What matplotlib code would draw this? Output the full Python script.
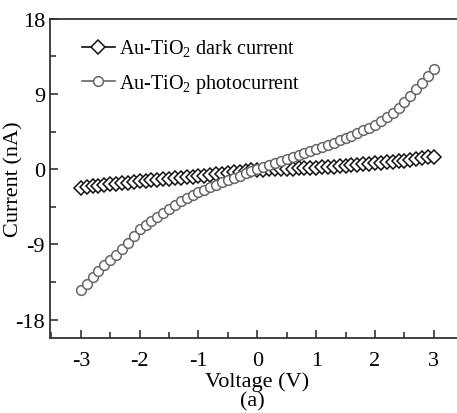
import numpy as np
import matplotlib.pyplot as plt
from matplotlib.ticker import MultipleLocator

plt.rcParams['font.family'] = ['Liberation Serif', 'DejaVu Serif']
plt.rcParams['mathtext.fontset'] = 'custom'
plt.rcParams['mathtext.rm'] = 'Liberation Serif'
plt.rcParams['axes.unicode_minus'] = False

# voltage sweep, 0.1 V steps
voltage = np.round(np.arange(-3.0, 3.01, 0.1), 2)

dark_current = [-2.2, -2.12, -2.04, -1.96, -1.88, -1.8, -1.73, -1.66, -1.59, -1.52,
                -1.45, -1.39, -1.33, -1.27, -1.21, -1.15, -1.09, -1.03, -0.97, -0.91,
                -0.85, -0.77, -0.69, -0.61, -0.53, -0.45, -0.37, -0.29, -0.21, -0.13,
                -0.05, -0.03, -0.01, 0.01, 0.03, 0.05, 0.08, 0.11, 0.14, 0.17,
                0.2, 0.24, 0.28, 0.32, 0.36, 0.4, 0.46, 0.52, 0.58, 0.64,
                0.7, 0.77, 0.84, 0.91, 0.98, 1.05, 1.14, 1.23, 1.32, 1.41, 1.5]

photocurrent = [-14.5, -13.7, -12.9, -12.2, -11.5, -10.9, -10.2, -9.5, -8.8, -8.0,
                -7.2, -6.7, -6.2, -5.7, -5.2, -4.75, -4.3, -3.85, -3.45, -3.1,
                -2.75, -2.45, -2.15, -1.85, -1.55, -1.3, -1.05, -0.8, -0.5, -0.25,
                0.0, 0.3, 0.55, 0.8, 1.0, 1.25, 1.45, 1.7, 1.95, 2.15,
                2.4, 2.65, 2.9, 3.15, 3.45, 3.75, 4.03, 4.33, 4.65, 4.99,
                5.35, 5.75, 6.22, 6.77, 7.39, 8.1, 8.82, 9.57, 10.35, 11.16, 12.0]

fig = plt.figure(figsize=(4.57, 4.14), dpi=100)
ax = fig.add_axes([0.109, 0.181, 0.897, 0.771])

ax.plot(voltage, dark_current, '-', color='#111111', lw=1.2, marker='D',
        ms=7, mfc='white', mec='#111111', mew=1.1,
        label=r'Au-TiO$_2$ dark current')
ax.plot(voltage, photocurrent, '-', color='#666666', lw=1.2, marker='o',
        ms=7, mfc='white', mec='#666666', mew=1.1,
        label=r'Au-TiO$_2$ photocurrent')

ax.set_xlim(-3.527, 3.44)
ax.set_ylim(-20.2, 18)
ax.set_xticks([-3, -2, -1, 0, 1, 2, 3])
ax.set_yticks([-18, -9, 0, 9, 18])
ax.xaxis.set_minor_locator(MultipleLocator(0.5))
ax.yaxis.set_minor_locator(MultipleLocator(4.5))
ax.tick_params(which='both', direction='in', labelsize=16, color='#333333', width=1.2)
ax.tick_params(which='major', length=6)
ax.tick_params(which='minor', length=4)
ax.tick_params(axis='x', pad=9)
for s in ax.spines.values():
    s.set_color('#333333')
    s.set_linewidth(1.3)

ax.set_xlabel('Voltage (V)', fontsize=16)
ax.set_ylabel('Current (nA)', fontsize=16)
ax.xaxis.set_label_coords(0.505, -0.105)
ax.yaxis.set_label_coords(-0.065, 0.5)

ax.legend(loc='upper left', frameon=False, fontsize=14.5, handlelength=1.6,
          handletextpad=0.2, borderaxespad=0.3, labelspacing=0.65,
          bbox_to_anchor=(0.045, 0.985))

fig.text(0.553, 0.005, '(a)', fontsize=16, ha='center', va='bottom')

fig.savefig('out.png', dpi=100)
